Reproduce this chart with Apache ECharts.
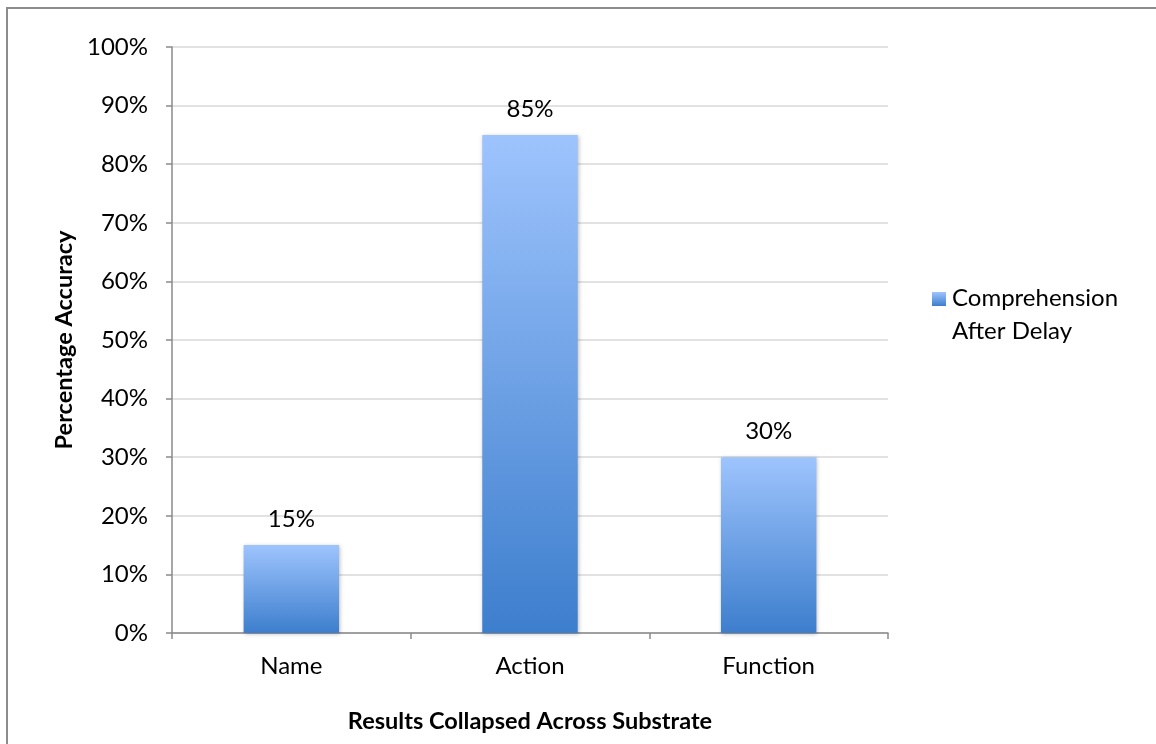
<!DOCTYPE html>
<html>
<head>
<meta charset="utf-8">
<script src="https://cdn.jsdelivr.net/npm/echarts@6/dist/echarts.min.js"></script>
<style>
  html, body { margin: 0; padding: 0; background: #ffffff; }
  #chart { width: 1156px; height: 744px; }
</style>
</head>
<body>
<div id="chart"></div>
<script>
// Accuracy on the comprehension test after a delay, by question type
const categories = ['Name', 'Action', 'Function'];
const accuracy = [15, 85, 30];
const seriesName = 'Comprehension After Delay';
const yTicks = [0, 10, 20, 30, 40, 50, 60, 70, 80, 90, 100];

const FONT = 'Lato, "Open Sans", sans-serif';

function blueFill() {
  return new echarts.graphic.LinearGradient(0, 0, 0, 1, [
    { offset: 0, color: '#9ec4fd' },
    { offset: 1, color: '#3d7ecd' }
  ]);
}

const chart = echarts.init(document.getElementById('chart'), null, { renderer: 'canvas' });

chart.setOption({
  animation: false,
  backgroundColor: '#ffffff',
  grid: { left: 172, right: 268, top: 47, bottom: 111, containLabel: false },
  xAxis: {
    type: 'category',
    data: categories,
    name: 'Results Collapsed Across Substrate',
    nameLocation: 'middle',
    nameGap: 76,
    nameTextStyle: { fontFamily: FONT, fontSize: 23.5, fontWeight: 'bold', color: '#000' },
    axisLine: { lineStyle: { color: '#8a8a8a', width: 1.5 } },
    axisTick: { show: true, length: 6, alignWithLabel: false, lineStyle: { color: '#8a8a8a', width: 1.5 } },
    axisLabel: { fontFamily: FONT, fontSize: 24, color: '#000', margin: 21 },
    splitLine: { show: false }
  },
  yAxis: {
    type: 'value',
    min: yTicks[0],
    max: yTicks[yTicks.length - 1],
    interval: 10,
    name: 'Percentage Accuracy',
    nameLocation: 'middle',
    nameGap: 95,
    nameRotate: 90,
    nameTextStyle: { fontFamily: FONT, fontSize: 23.5, fontWeight: 'bold', color: '#000' },
    axisLine: { show: true, lineStyle: { color: '#8a8a8a', width: 1.5 } },
    axisTick: { show: true, length: 6, lineStyle: { color: '#8a8a8a', width: 1.5 } },
    axisLabel: { fontFamily: FONT, fontSize: 24, color: '#000', margin: 24, formatter: v => v + '%' },
    splitLine: { show: true, lineStyle: { color: '#d9d9d9', width: 1.5 } }
  },
  series: [{
    name: seriesName,
    type: 'bar',
    data: accuracy,
    barWidth: '40%',
    itemStyle: {
      color: blueFill(),
      shadowColor: 'rgba(0,0,0,0.25)',
      shadowBlur: 4,
      shadowOffsetX: 1,
      shadowOffsetY: 1
    },
    label: {
      show: true,
      position: 'top',
      distance: 14,
      fontFamily: FONT,
      fontSize: 24,
      color: '#000',
      formatter: p => p.value + '%'
    }
  }],
  graphic: [
    // outer chart frame
    {
      type: 'rect',
      shape: { x: 7, y: 8, width: 1200, height: 800 },
      style: { fill: 'none', stroke: '#8c8c8c', lineWidth: 2 },
      silent: true,
      z: 0
    },
    // legend key
    {
      type: 'rect',
      shape: { x: 932, y: 292, width: 14, height: 14 },
      style: { fill: blueFill() },
      z: 10
    },
    {
      type: 'text',
      left: 952,
      top: 282,
      style: {
        text: 'Comprehension\nAfter Delay',
        fontFamily: FONT,
        fontSize: 24,
        lineHeight: 33,
        fill: '#000'
      },
      z: 10
    }
  ]
});
</script>
</body>
</html>
